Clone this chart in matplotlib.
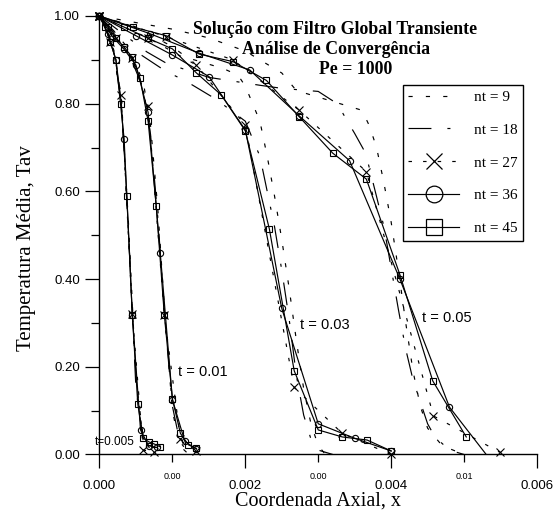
import matplotlib
matplotlib.use("Agg")
import matplotlib.pyplot as plt
from matplotlib.lines import Line2D
from matplotlib.transforms import Bbox, TransformedBbox
from matplotlib.ticker import FixedLocator, FormatStrFormatter

# ---- data (x = axial coordinate, y = mean temperature) ----
# t = 0.005
x005_45 = [0, 0.000075, 0.00015, 0.000225, 0.0003, 0.000375, 0.00045, 0.000525, 0.0006, 0.000675, 0.00075, 0.000825]
y005_45 = [1.0, 0.975, 0.94, 0.90, 0.80, 0.59, 0.318, 0.115, 0.037, 0.029, 0.024, 0.018]
x005_36 = [0, 0.0001125, 0.000225, 0.0003375, 0.00045, 0.0005625, 0.000675, 0.0007875]
y005_36 = [1.0, 0.96, 0.90, 0.72, 0.318, 0.056, 0.02, 0.016]
x005_27 = [0, 0.00015, 0.0003, 0.00045, 0.0006, 0.00075]
y005_27 = [1.0, 0.94, 0.82, 0.32, 0.01, 0.006]
x005_18 = [0, 0.0001, 0.0002, 0.0003, 0.0004, 0.0005, 0.0006, 0.0007, 0.0008]
y005_18 = [1.0, 0.965, 0.915, 0.80, 0.50, 0.15, 0.03, 0.01, 0.0]
x005_9 = [0, 0.0001, 0.0002, 0.0003, 0.0004, 0.0005, 0.0006, 0.0007, 0.0008]
y005_9 = [1.0, 0.97, 0.92, 0.81, 0.52, 0.17, 0.04, 0.01, 0.0]

# t = 0.01
x01_45 = [0, 0.000111, 0.000222, 0.000333, 0.000444, 0.000556, 0.000667, 0.000778, 0.000889, 0.001, 0.00111, 0.00122, 0.00133]
y01_45 = [1.0, 0.975, 0.95, 0.93, 0.907, 0.858, 0.76, 0.567, 0.318, 0.127, 0.048, 0.022, 0.014]
x01_36 = [0, 0.000167, 0.000333, 0.0005, 0.000667, 0.000833, 0.001, 0.00117, 0.00133]
y01_36 = [1.0, 0.955, 0.925, 0.888, 0.78, 0.46, 0.125, 0.03, 0.012]
x01_27 = [0, 0.000222, 0.000444, 0.000667, 0.000889, 0.00111, 0.00133]
y01_27 = [1.0, 0.95, 0.905, 0.795, 0.318, 0.035, 0.008]
x01_18 = [0, 0.0002, 0.0004, 0.0006, 0.0007, 0.0008, 0.0009, 0.001, 0.0011, 0.0012, 0.0013]
y01_18 = [1.0, 0.96, 0.915, 0.835, 0.73, 0.54, 0.30, 0.11, 0.03, 0.008, 0.0]
x01_9 = [0, 0.0002, 0.0004, 0.0006, 0.0007, 0.0008, 0.0009, 0.001, 0.0011, 0.0012, 0.0013]
y01_9 = [1.0, 0.965, 0.925, 0.85, 0.75, 0.56, 0.31, 0.10, 0.02, 0.004, 0.0]

# t = 0.03
x03_45 = [0, 0.000333, 0.000667, 0.001, 0.00133, 0.00167, 0.002, 0.00233, 0.00267, 0.003, 0.00333, 0.00367, 0.004]
y03_45 = [1.0, 0.975, 0.949, 0.925, 0.87, 0.82, 0.738, 0.514, 0.191, 0.056, 0.04, 0.033, 0.008]
x03_36 = [0, 0.0005, 0.001, 0.0015, 0.002, 0.0025, 0.003, 0.0035, 0.004]
y03_36 = [1.0, 0.955, 0.911, 0.862, 0.74, 0.333, 0.07, 0.037, 0.008]
x03_27 = [0, 0.000667, 0.00133, 0.002, 0.00267, 0.00333, 0.004]
y03_27 = [1.0, 0.95, 0.888, 0.751, 0.153, 0.048, 0.0]
x03_18 = [0, 0.0004, 0.0009, 0.0012, 0.0016, 0.002, 0.0022, 0.0024, 0.0025, 0.0026, 0.0027, 0.0028, 0.0029, 0.003, 0.0032]
y03_18 = [1.0, 0.93, 0.875, 0.85, 0.81, 0.76, 0.68, 0.52, 0.42, 0.31, 0.18, 0.09, 0.035, 0.01, 0.0]
x03_9 = [0, 0.0005, 0.001, 0.0012, 0.0015, 0.0017, 0.0019, 0.002, 0.0022, 0.0023, 0.0024, 0.0025, 0.0026, 0.0027, 0.0028, 0.0029, 0.003, 0.0031]
y03_9 = [1.0, 0.975, 0.93, 0.905, 0.89, 0.88, 0.865, 0.84, 0.76, 0.68, 0.59, 0.49, 0.38, 0.26, 0.15, 0.07, 0.02, 0.0]

# t = 0.05
x05_45 = [0, 0.000457, 0.000915, 0.00137, 0.00183, 0.00229, 0.00274, 0.0032, 0.00366, 0.00412, 0.00457, 0.00503]
y05_45 = [1.0, 0.975, 0.955, 0.913, 0.896, 0.853, 0.77, 0.687, 0.628, 0.41, 0.168, 0.04]
x05_36 = [0, 0.000686, 0.00137, 0.00206, 0.00274, 0.00343, 0.00412, 0.0048, 0.00549]
y05_36 = [1.0, 0.96, 0.915, 0.877, 0.772, 0.67, 0.40, 0.108, -0.04]
x05_27 = [0, 0.000915, 0.00183, 0.00274, 0.00366, 0.00458, 0.00549]
y05_27 = [1.0, 0.953, 0.9, 0.785, 0.645, 0.088, 0.005]
x05_18 = [0, 0.00065, 0.00092, 0.0015, 0.0022, 0.0025, 0.003, 0.00326, 0.0035, 0.00365, 0.0038, 0.0039,
          0.0041, 0.0042, 0.0043, 0.0044, 0.0045, 0.0046, 0.0048, 0.005]
y05_18 = [1.0, 0.918, 0.892, 0.86, 0.842, 0.835, 0.828, 0.80, 0.732, 0.687, 0.588, 0.52,
          0.33, 0.24, 0.17, 0.12, 0.07, 0.04, 0.01, 0.0]
x05_9 = [0, 0.0005, 0.001, 0.0015, 0.002, 0.0025, 0.0027, 0.003, 0.0032, 0.0034, 0.0036, 0.0037, 0.0038,
         0.0039, 0.004, 0.0041, 0.0042, 0.0043, 0.0044, 0.0045, 0.0047, 0.005]
y05_9 = [1.0, 0.985, 0.97, 0.95, 0.92, 0.87, 0.83, 0.815, 0.805, 0.795, 0.785, 0.75, 0.70,
         0.62, 0.53, 0.42, 0.30, 0.19, 0.11, 0.06, 0.02, 0.0]

nt_values = [9, 18, 27, 36, 45]
curves = {
    9: [(x005_9, y005_9), (x01_9, y01_9), (x03_9, y03_9), (x05_9, y05_9)],
    18: [(x005_18, y005_18), (x01_18, y01_18), (x03_18, y03_18), (x05_18, y05_18)],
    27: [(x005_27, y005_27), (x01_27, y01_27), (x03_27, y03_27), (x05_27, y05_27)],
    36: [(x005_36, y005_36), (x01_36, y01_36), (x03_36, y03_36), (x05_36, y05_36)],
    45: [(x005_45, y005_45), (x01_45, y01_45), (x03_45, y03_45), (x05_45, y05_45)],
}

styles = {
    9: dict(ls=(0, (3, 9.5)), marker="None", ms=0),
    18: dict(ls=(0, (16.5, 11.5, 2.2, 11.5)), marker="None", ms=0),
    27: dict(ls=(0, (2.5, 8)), marker="x", ms=5.5),
    36: dict(ls="-", marker="o", ms=4.5),
    45: dict(ls="-", marker="s", ms=5),
}
legend_ms = {9: 0, 18: 0, 27: 12, 36: 12, 45: 12}

plt.rcParams["font.family"] = ["Liberation Sans", "DejaVu Sans"]
plt.rcParams["lines.scale_dashes"] = False

fig = plt.figure(figsize=(5.54, 5.16), dpi=100)
ax = fig.add_axes([0.1796, 0.1192, 0.7897, 0.8498])


def clip_to(artist, y0):
    artist.set_clip_path(None)
    artist.set_clip_box(TransformedBbox(Bbox([[-0.05, y0], [1.05, 1.1]]), ax.transAxes))


for nt in nt_values:
    st = styles[nt]
    for xs, ys in curves[nt]:
        ln, = ax.plot(xs, ys, color="black", lw=0.85, ls=st["ls"])
        clip_to(ln, 0.0)
        if st["marker"] != "None":
            mk, = ax.plot(xs, ys, ls="None", marker=st["marker"], ms=st["ms"],
                          mfc="none", mec="black", mew=0.8)
            clip_to(mk, -0.02)

ax.set_xlim(0, 0.006)
ax.set_ylim(0, 1.0)
for s in ["top", "right"]:
    ax.spines[s].set_visible(False)
for s in ["left", "bottom"]:
    ax.spines[s].set_linewidth(1.0)

ax.xaxis.set_major_locator(FixedLocator([0, 0.002, 0.004, 0.006]))
ax.xaxis.set_minor_locator(FixedLocator([0.001, 0.003, 0.005]))
ax.xaxis.set_major_formatter(FormatStrFormatter("%.3f"))
ax.xaxis.set_minor_formatter(FormatStrFormatter("%.2f"))
ax.yaxis.set_major_locator(FixedLocator([0, 0.2, 0.4, 0.6, 0.8, 1.0]))
ax.yaxis.set_minor_locator(FixedLocator([0.1, 0.3, 0.5, 0.7, 0.9]))
ax.yaxis.set_major_formatter(FormatStrFormatter("%.2f"))

ax.tick_params(axis="both", which="major", direction="out", length=10, width=0.9, labelsize=9.5)
ax.tick_params(axis="both", which="minor", direction="out", length=5.8, width=0.9)
ax.tick_params(axis="x", which="major", pad=8.5)
ax.tick_params(axis="x", which="minor", pad=7, labelsize=6.5)
ax.tick_params(axis="y", which="major", pad=4)

serif = ["Liberation Serif", "DejaVu Serif"]
ax.set_xlabel("Coordenada Axial, x", family=serif, fontsize=14.5)
ax.xaxis.set_label_coords(0.5, -0.106)
ax.xaxis.label.set_va("center")
ax.set_ylabel("Temperatura Média, Tav", family=serif, fontsize=15)
ax.yaxis.set_label_coords(-0.166, 0.471)
ax.yaxis.label.set_va("center")

# title block inside the plot
fig.text(335 / 554, 1 - 29 / 516, "Solução com Filtro Global Transiente", family=serif,
         fontsize=12.8, fontweight="bold", ha="center", va="center")
fig.text(336 / 554, 1 - 50 / 516, "Análise de Convergência", family=serif,
         fontsize=12.8, fontweight="bold", ha="center", va="center")
fig.text(356 / 554, 1 - 70 / 516, "Pe = 1000", family=serif,
         fontsize=12.8, fontweight="bold", ha="center", va="center")

# curve annotations
ax.text(0.00142, 0.188, "t = 0.01", fontsize=10.5, ha="center", va="center")
ax.text(0.00309, 0.295, "t = 0.03", fontsize=10.5, ha="center", va="center")
ax.text(0.00477, 0.311, "t = 0.05", fontsize=10.5, ha="center", va="center")
ax.text(-0.00006, 0.0285, "t=0.005", fontsize=8.5, ha="left", va="center")

handles = []
for nt in nt_values:
    st = styles[nt]
    handles.append(Line2D([], [], color="black", lw=0.85, ls=st["ls"], marker=st["marker"],
                          ms=legend_ms[nt], mfc="none", mec="black", mew=0.9))
leg = ax.legend(handles, [f"nt = {nt}" for nt in nt_values], loc="upper left",
                bbox_to_anchor=(0.6937, 0.8427), borderaxespad=0, fancybox=False,
                framealpha=1, edgecolor="black", prop={"family": serif, "size": 11},
                handlelength=3.3, handletextpad=1.0, borderpad=0.35, labelspacing=1.25)
leg.get_frame().set_linewidth(1.0)

fig.savefig("out.png", dpi=100)
